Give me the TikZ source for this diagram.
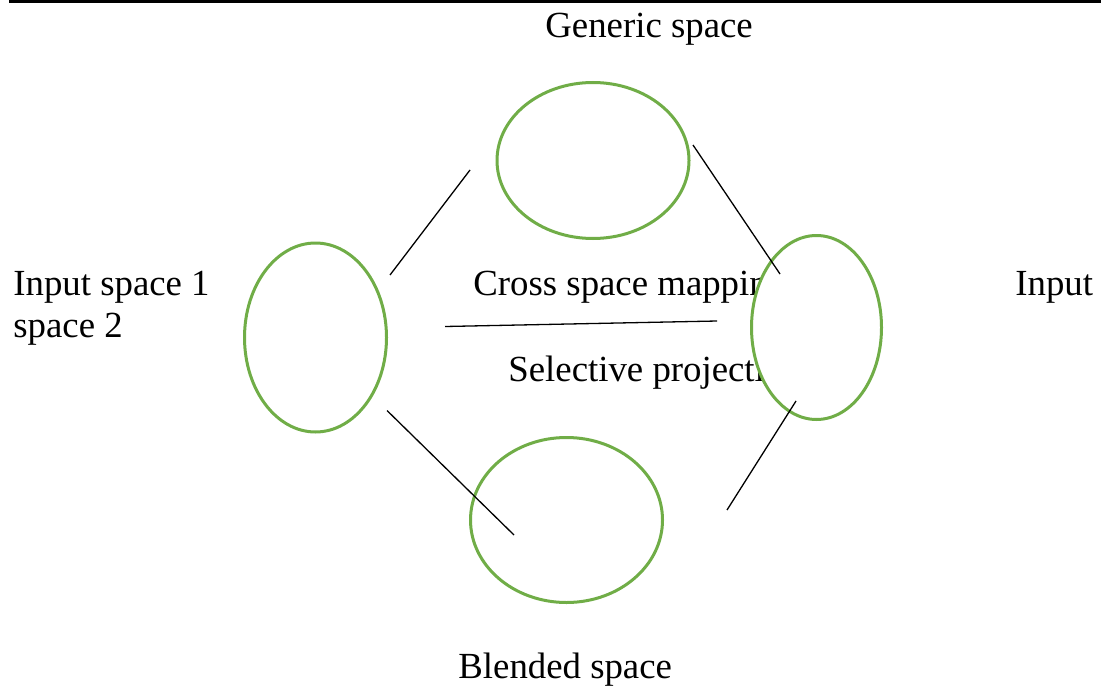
\documentclass[tikz,border=0pt]{standalone}
\usepackage{fontspec}
\setmainfont{Liberation Serif}
\usepackage{tikz}

\definecolor{spacegreen}{RGB}{112,173,71}

\begin{document}
\begin{tikzpicture}[x=0.5pt, y=-0.5pt,
    label/.style={anchor=base west, inner sep=0pt, font=\fontsize{18.4}{22}\selectfont},
    space/.style={draw=spacegreen, line width=1.5pt, fill=white},
    link/.style={black, line width=0.65pt}]
    \useasboundingbox (0,0) rectangle (1101,690);

    % Rule at the top of the page
    \fill[black] (9,0) rectangle (1101,3.5);

    % Labels
    \node[label] (generic) at (545,38) {Generic space};
    \node[label] (input1) at (13,295) {Input space 1};
    \node[label] (input2) at (13,337) {space 2};
    \node[label] (inputr) at (1015,295) {Input};
    \node[label] (cross) at (473,295) {Cross space mapping};
    \node[label] (select) at (508,381) {Selective projection};
    \node[label] (blended) at (458,678) {Blended space};

    % Spaces (the right one hides the end of the middle labels)
    \draw[space] (593,160.5) ellipse [x radius=96, y radius=78];   % generic
    \draw[space] (315.5,337.5) ellipse [x radius=71, y radius=94.5]; % input 1
    \draw[space] (816.5,327.5) ellipse [x radius=65, y radius=92]; % input 2
    \draw[space] (566.5,520) ellipse [x radius=96, y radius=82.5]; % blended

    % End points of the links
    \coordinate (a1) at (390,275);
    \coordinate (a2) at (470,170);
    \coordinate (b1) at (693,145);
    \coordinate (b2) at (780,274);
    \coordinate (c1) at (445,326.5);
    \coordinate (c2) at (717,321);
    \coordinate (d1) at (387,410.5);
    \coordinate (d2) at (514,535);
    \coordinate (e1) at (796,401);
    \coordinate (e2) at (727,510);

    % Links
    \draw[link] (a1) -- (a2);
    \draw[link] (b1) -- (b2);
    \draw[link] (c1) -- (c2);
    \draw[link] (d1) -- (d2);
    \draw[link] (e1) -- (e2);
\end{tikzpicture}
\end{document}
